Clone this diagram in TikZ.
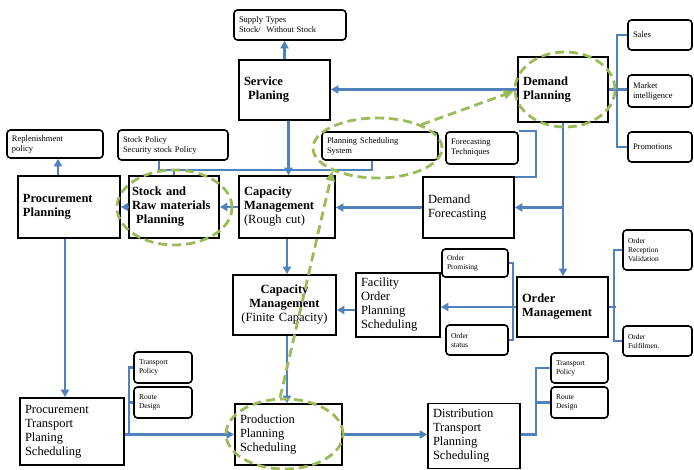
\documentclass[tikz,border=0pt]{standalone}
\usepackage{fontspec}
\setmainfont{Liberation Serif}
\usetikzlibrary{arrows.meta,shapes.geometric}
\definecolor{linkblue}{RGB}{79,129,189}
\definecolor{ringgreen}{RGB}{155,187,89}

\begin{document}
\begin{tikzpicture}[x=1pt,y=-1pt,
    mainbox/.style 2 args={draw,line width=1.8pt,text width=#1,minimum height=#2,inner xsep=5pt,align=left,font=\fontsize{12.5}{14}\selectfont},
    titlebox/.style 2 args={mainbox={#1}{#2},font=\fontsize{12.5}{14}\selectfont\bfseries},
    notebox/.style 2 args={draw,line width=1.6pt,rounded corners=3.5pt,text width=#1,minimum height=#2,inner xsep=5pt,align=left,font=\fontsize{8.5}{10}\selectfont},
    smallnote/.style 2 args={notebox={#1}{#2},font=\fontsize{7.5}{9}\selectfont},
    bluelink/.style={draw=linkblue,line width=2.4pt},
    bluefeed/.style={bluelink,-{Triangle[length=7.5pt,width=8pt]}},
    ring/.style={draw=ringgreen,line width=2.8pt,dash pattern=on 9pt off 5pt,ellipse,inner sep=0pt},
    ringlink/.style={draw=ringgreen,line width=2.8pt,dash pattern=on 9pt off 5pt,-{Triangle[length=10pt,width=9pt]}}]
    \fill[white] (0,0) rectangle (694,470);
    \useasboundingbox (0,0) rectangle (694,470);

    \node[notebox={102pt}{30pt}] (supply) at (290,25) {Supply Types\\Stock/\ \ Without Stock};
    \node[titlebox={81pt}{60pt}] (service) at (284.5,90) {Service\\\ Planing};
    \node[titlebox={80pt}{65pt}] (demandP) at (563,89.5) {Demand\\Planning};
    \node[notebox={54pt}{30pt}] (sales) at (660,35) {Sales};
    \node[notebox={54pt}{32pt}] (market) at (660,91) {Market\\intelligence};
    \node[notebox={54pt}{30pt}] (promo) at (660,147) {Promotions};
    \node[notebox={86pt}{28pt}] (replen) at (55,144) {Replenishment\\policy};
    \node[notebox={100pt}{30pt}] (stockpol) at (173,145) {Stock Policy\\Security stock Policy};
    \node[notebox={106pt}{28pt}] (pss) at (380,146) {Planning Scheduling\\System};
    \node[notebox={62pt}{32pt}] (fcTech) at (482,148) {Forecasting\\Techniques};
    \node[titlebox={92pt}{62pt}] (procP) at (69,207) {Procurement\\Planning};
    \node[titlebox={84pt}{62pt},inner xsep=3pt] (stockRaw) at (174,207) {Stock and\\Raw materials\\\ Planning};
    \node[mainbox={86pt}{62pt}] (capRough) at (287,207) {\textbf{Capacity}\\\textbf{Management}\\(Rough cut)};
    \node[mainbox={81pt}{61pt}] (demandF) at (468.5,207.5) {Demand\\Forecasting};
    \node[mainbox={93pt}{60pt},align=center] (capFinite) at (284.5,305) {\textbf{Capacity}\\\textbf{Management}\\(Finite Capacity)};
    \node[mainbox={74pt}{64pt}] (facility) at (398,305) {Facility\\Order\\Planning\\Scheduling};
    \node[smallnote={56pt}{28pt}] (ordProm) at (475,263) {Order\\Promising};
    \node[smallnote={52pt}{30pt}] (ordStatus) at (477,340) {Order\\status};
    \node[titlebox={81pt}{60pt}] (ordMgmt) at (562.5,307) {Order\\Management};
    \node[smallnote={59pt}{40pt}] (ordRecep) at (657.5,250) {Order\\Reception\\Validation};
    \node[smallnote={59pt}{30pt}] (ordFulfil) at (657.5,341) {Order\\Fulfilmen.};
    \node[mainbox={94pt}{67pt}] (procT) at (72,431.5) {Procurement\\Transport\\Planing\\Scheduling};
    \node[smallnote={48pt}{31pt}] (tpL) at (163,367.5) {Transport\\Policy};
    \node[smallnote={48pt}{31pt}] (rdL) at (163,402.5) {Route\\Design};
    \node[mainbox={97pt}{61pt}] (production) at (288.5,434.5) {Production\\Planning\\Scheduling};
    \node[mainbox={82pt}{65pt}] (distrib) at (474,436) {Distribution\\Transport\\Planning\\Scheduling};
    \node[smallnote={47pt}{30pt}] (tpR) at (579.5,368) {Transport\\Policy};
    \node[smallnote={47pt}{31pt}] (rdR) at (579.5,402.5) {Route\\Design};

    \draw[bluefeed] (service.north) -- (service.north |- supply.south);
    \draw[bluefeed] (demandP.west) -- (demandP.west -| service.east);
    \draw[bluelink] (demandP.east) -- (demandP.east -| market.west);
    \draw[bluelink] (sales.west) -- ++(-10,0) |- (promo.west);
    \draw[bluefeed] ([xshift=4pt]service.south) -- ([xshift=4pt]service.south |- capRough.north);
    \coordinate (planBus) at (0,170);
    \draw[bluelink] ([xshift=-14pt]stockpol.south) |- ([xshift=-8pt]pss.south |- planBus) -- ([xshift=-8pt]pss.south);
    \draw[bluelink] (stockRaw.north) -- (stockRaw.north |- planBus);
    \draw[bluefeed] (capRough.west) -- (stockRaw.east);
    \draw[bluefeed] (stockRaw.west) -- (procP.east);
    \draw[bluefeed] ([xshift=3pt]replen.south |- procP.north) -- ([xshift=3pt]replen.south);
    \draw[bluefeed] ([xshift=-4pt]procP.south) -- ([xshift=-4pt]procP.south |- procT.north);
    \draw[bluefeed] (demandF.west) -- (demandF.west -| capRough.east);
    \draw[bluelink] (fcTech.north east) -- ++(17,0) |- ([yshift=-1pt]demandF.north east);
    \draw[bluefeed] (demandP.south) -- (demandP.south |- ordMgmt.north);
    \draw[bluefeed] (demandP.south |- demandF.east) -- (demandF.east);
    \draw[bluefeed] (capRough.south) -- (capRough.south |- capFinite.north);
    \draw[bluefeed] (capRough.south |- capFinite.south) -- (capRough.south |- production.north);
    \draw[bluefeed] ([yshift=-5pt]facility.west) -- ([yshift=-5pt]facility.west -| capFinite.east);
    \draw[bluefeed] (ordMgmt.west) -- (ordMgmt.west -| facility.east);
    \draw[bluelink] (ordProm.east) -- ++(4,0) |- (ordStatus.east);
    \draw[bluelink] (ordMgmt.east) -- ++(7,0);
    \draw[bluelink] (ordRecep.west) -- ++(-8,0) |- (ordFulfil.west);
    \draw[bluefeed] (procT.east |- production.west) -- (production.west);
    \draw[bluelink] (tpL.west) -- ++(-4,0) |- (procT.east |- production.west);
    \draw[bluelink] (rdL.west) -- ++(-4,0);
    \draw[bluefeed] (production.east) -- (production.east -| distrib.west);
    \draw[bluelink] (tpR.west) -- ++(-14,0) |- (production.east -| distrib.east);
    \draw[bluelink] (rdR.west) -- ++(-14,0);

    \node[ring,minimum width=100pt,minimum height=75pt] (dpRing) at (565,89.5) {};
    \node[ring,minimum width=129pt,minimum height=60pt] (pssRing) at (377.5,148) {};
    \node[ring,minimum width=115pt,minimum height=75pt] (stockRing) at (174.5,207.5) {};
    \node[ring,minimum width=117pt,minimum height=70pt] (prodRing) at (284.5,434) {};
    \draw[ringlink] (pssRing.28) -- (dpRing.182);
    \draw[ringlink] (prodRing.97) -- (pssRing.207);
\end{tikzpicture}
\end{document}
